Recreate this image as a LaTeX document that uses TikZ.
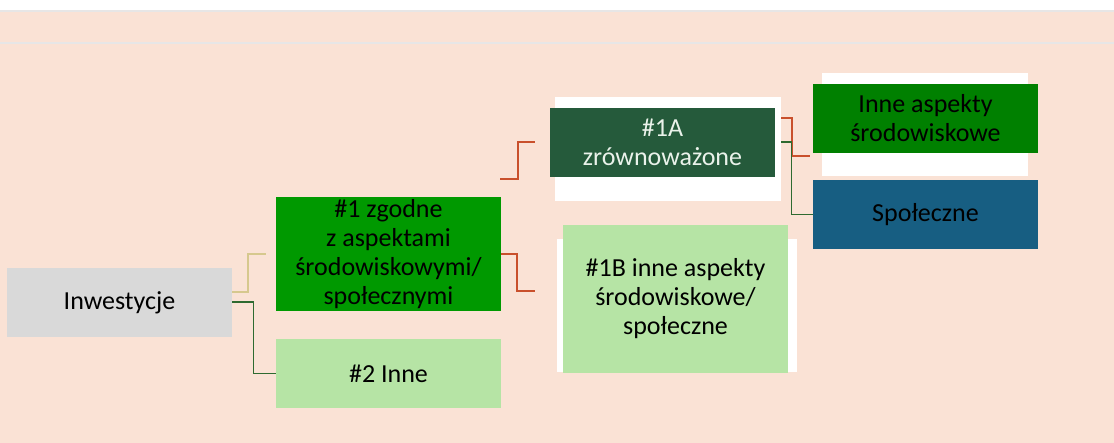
\documentclass[tikz,border=0pt]{standalone}
\usepackage{fontspec}
\setmainfont{Carlito}
\usetikzlibrary{calc}
\definecolor{peach}{HTML}{FAE2D5}
\definecolor{greyline}{HTML}{E7E6E6}
\definecolor{inwfill}{HTML}{D9D9D9}
\definecolor{midgreen}{HTML}{009900}
\definecolor{lightgreen}{HTML}{B6E4A5}
\definecolor{darkgreen}{HTML}{255A3B}
\definecolor{puregreen}{HTML}{008000}
\definecolor{bluebox}{HTML}{175E82}
\definecolor{tanline}{HTML}{D6C88E}
\definecolor{redline}{HTML}{C9502C}
\definecolor{dkline}{HTML}{2E6A30}
\definecolor{paletext}{HTML}{EAF2EA}
\tikzset{
  box/.style={rectangle, inner sep=0pt, minimum width=225pt, minimum height=69pt, align=center,
    font=\fontsize{26}{29}\selectfont, text=black},
  backing/.style={rectangle, inner sep=0pt, fill=white},
  tanconn/.style={draw=tanline, line width=2pt},
  redconn/.style={draw=redline, line width=2pt},
  greenconn/.style={draw=dkline, line width=1.3pt},
}
\begin{document}
\begin{tikzpicture}[x=1pt,y=-1pt]
\useasboundingbox (0,0) rectangle (1114,443);
\fill[white] (0,0) rectangle (1114,443);
\fill[peach] (0,10) rectangle (1114,443);
\fill[greyline] (0,10) rectangle (1114,12.5);
\fill[greyline] (0,42) rectangle (1114,44.5);

% white backings
\node[backing, minimum width=226pt, minimum height=104pt] (b1A) at (668,149) {};
\node[backing, minimum width=240pt, minimum height=133pt] (b1B) at (677,305.5) {};
\node[backing, minimum width=206pt, minimum height=103pt] (bIA) at (925,124.5) {};

% boxes
\node[box, fill=inwfill] (inw) at (119.5,302.5) {Inwestycje};
\node[box, fill=midgreen, minimum height=114pt] (n1) at (388.5,254) {\#1 zgodne\\z aspektami\\środowiskowymi/\\społecznymi};
\node[box, fill=lightgreen] (n2) at (388.5,373.5) {\#2 Inne};
\node[box, fill=darkgreen, text=paletext] (n1A) at (662.5,142.5) {\#1A\\zrównoważone};
\node[box, fill=lightgreen, minimum height=148pt] (n1B) at (675.5,299) {\#1B inne aspekty\\środowiskowe/\\społeczne};
\node[box, fill=puregreen] (nIA) at (925.5,118.5) {Inne aspekty\\środowiskowe};
\node[box, fill=bluebox] (nSp) at (925.5,214.5) {Społeczne};

% connectors
\coordinate (s1A) at (500,179.5);
\draw[tanconn] ([yshift=10.5pt]inw.east) -- ++(16,0) |- ([xshift=-10pt]n1.west);
\draw[greenconn] ([yshift=0.5pt]inw.east) -- ++(21,0) |- (n2.west);
\draw[redconn] (n1.east) -- ++(16,0) |- ([xshift=-28pt,yshift=8pt]n1B.west);
\draw[redconn] (s1A) -- ++(18,0) |- ([xshift=-15pt]n1A.west);
\draw[redconn] ([yshift=31pt]b1A.east) -- ++(11,0) |- ([xshift=-3pt,yshift=-37.5pt]nIA.west);
\draw[greenconn] ([yshift=7pt]b1A.east) -- ++(10,0) |- (nSp.west);
\end{tikzpicture}
\end{document}
